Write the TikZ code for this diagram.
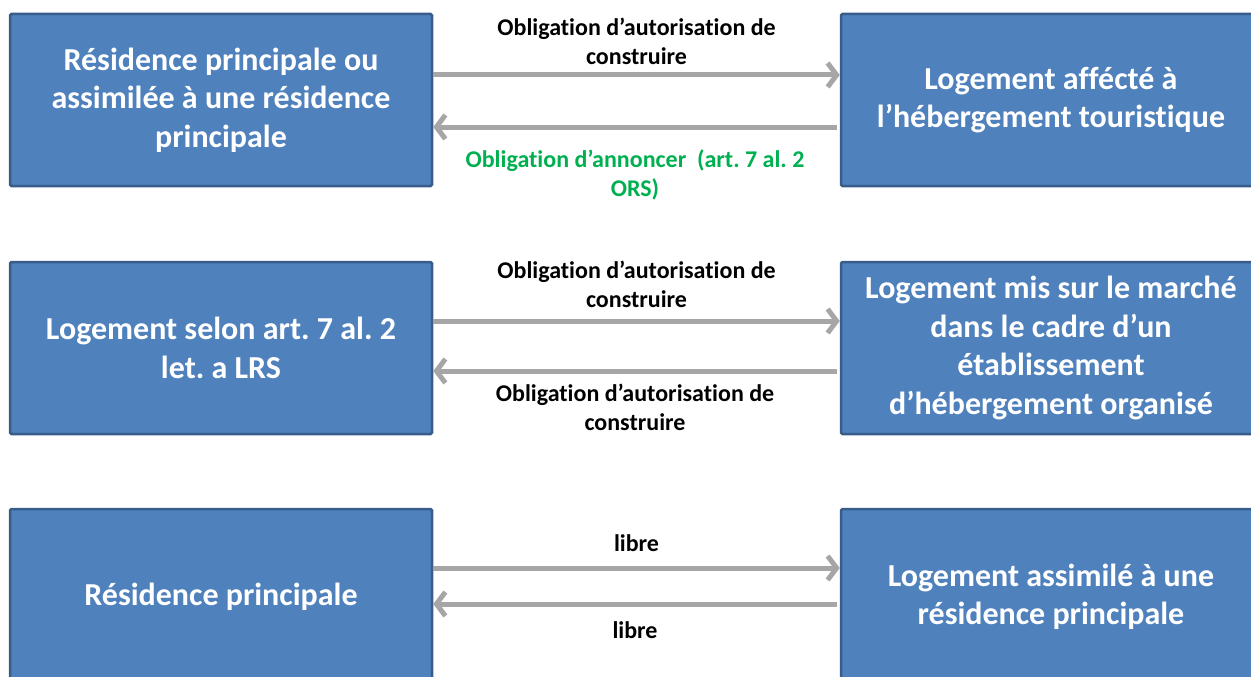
\documentclass[tikz,border=0pt]{standalone}
\usepackage{fontspec}
\setmainfont{Carlito}[Ligatures=NoCommon]
\usetikzlibrary{arrows.meta,positioning}
\definecolor{boxblue}{RGB}{79,129,189}
\definecolor{boxedge}{RGB}{56,93,138}
\definecolor{arrowgray}{RGB}{166,166,166}
\definecolor{notegreen}{RGB}{0,176,80}
\frenchspacing

\begin{document}
\begin{tikzpicture}[x=1pt,y=1pt,
    box/.style={draw=boxedge,line width=2.5pt,fill=boxblue,text=white,rounded corners=1.5pt,
      font=\bfseries\fontsize{32}{38.5}\selectfont,align=center,inner sep=0pt,minimum height=172pt},
    conn/.style={draw=arrowgray,line width=5pt,-{Straight Barb[length=9pt,width=24pt]}},
    lbl/.style={font=\bfseries\fontsize{24}{29}\selectfont,align=center,text=black}]
        \useasboundingbox (0,0) rectangle (1251,-677);
        \clip (0,0) rectangle (1251,-677);
        % left column
        \node[box,minimum width=422pt] (res1) at (221,-100) {Résidence principale ou\\assimilée à une résidence\\principale};
        \node[box,minimum width=422pt] (res2) at (221,-348) {Logement selon art. 7 al. 2\\let. a LRS};
        \node[box,minimum width=422pt,minimum height=176pt] (res3) at (221,-597) {Résidence principale};
        % right column
        \node[box,minimum width=420pt] (log1) at (1051,-100) {Logement affécté à\\l’hébergement touristique};
        \node[box,minimum width=420pt] (log2) at (1051,-348) {Logement mis sur le marché\\dans le cadre d’un\\établissement\\d’hébergement organisé};
        \node[box,minimum width=420pt,minimum height=176pt] (log3) at (1051,-597) {Logement assimilé à une\\résidence principale};
        % connectors
        \draw[conn] ([yshift=25pt]res1.east) -- ([yshift=25pt]log1.west)
          node[lbl,midway,yshift=33.5pt] {Obligation d’autorisation de\\construire};
        \draw[conn] ([yshift=-27pt,xshift=-3pt]log1.west) -- ([yshift=-27pt]res1.east)
          node[lbl,midway,yshift=-48pt,text=notegreen] {Obligation d’annoncer~ (art. 7 al. 2\\ORS)};
        \draw[conn] ([yshift=27pt]res2.east) -- ([yshift=27pt]log2.west)
          node[lbl,midway,yshift=36.5pt] {Obligation d’autorisation de\\construire};
        \draw[conn] ([yshift=-23pt,xshift=-3pt]log2.west) -- ([yshift=-23pt]res2.east)
          node[lbl,midway,yshift=-36pt] {Obligation d’autorisation de\\construire};
        \draw[conn] ([yshift=29pt]res3.east) -- ([yshift=29pt]log3.west)
          node[lbl,midway,yshift=25pt] {libre};
        \draw[conn] ([yshift=-7pt,xshift=-3pt]log3.west) -- ([yshift=-7pt]res3.east)
          node[lbl,midway,yshift=-26pt] {libre};
      \end{tikzpicture}
\end{document}
